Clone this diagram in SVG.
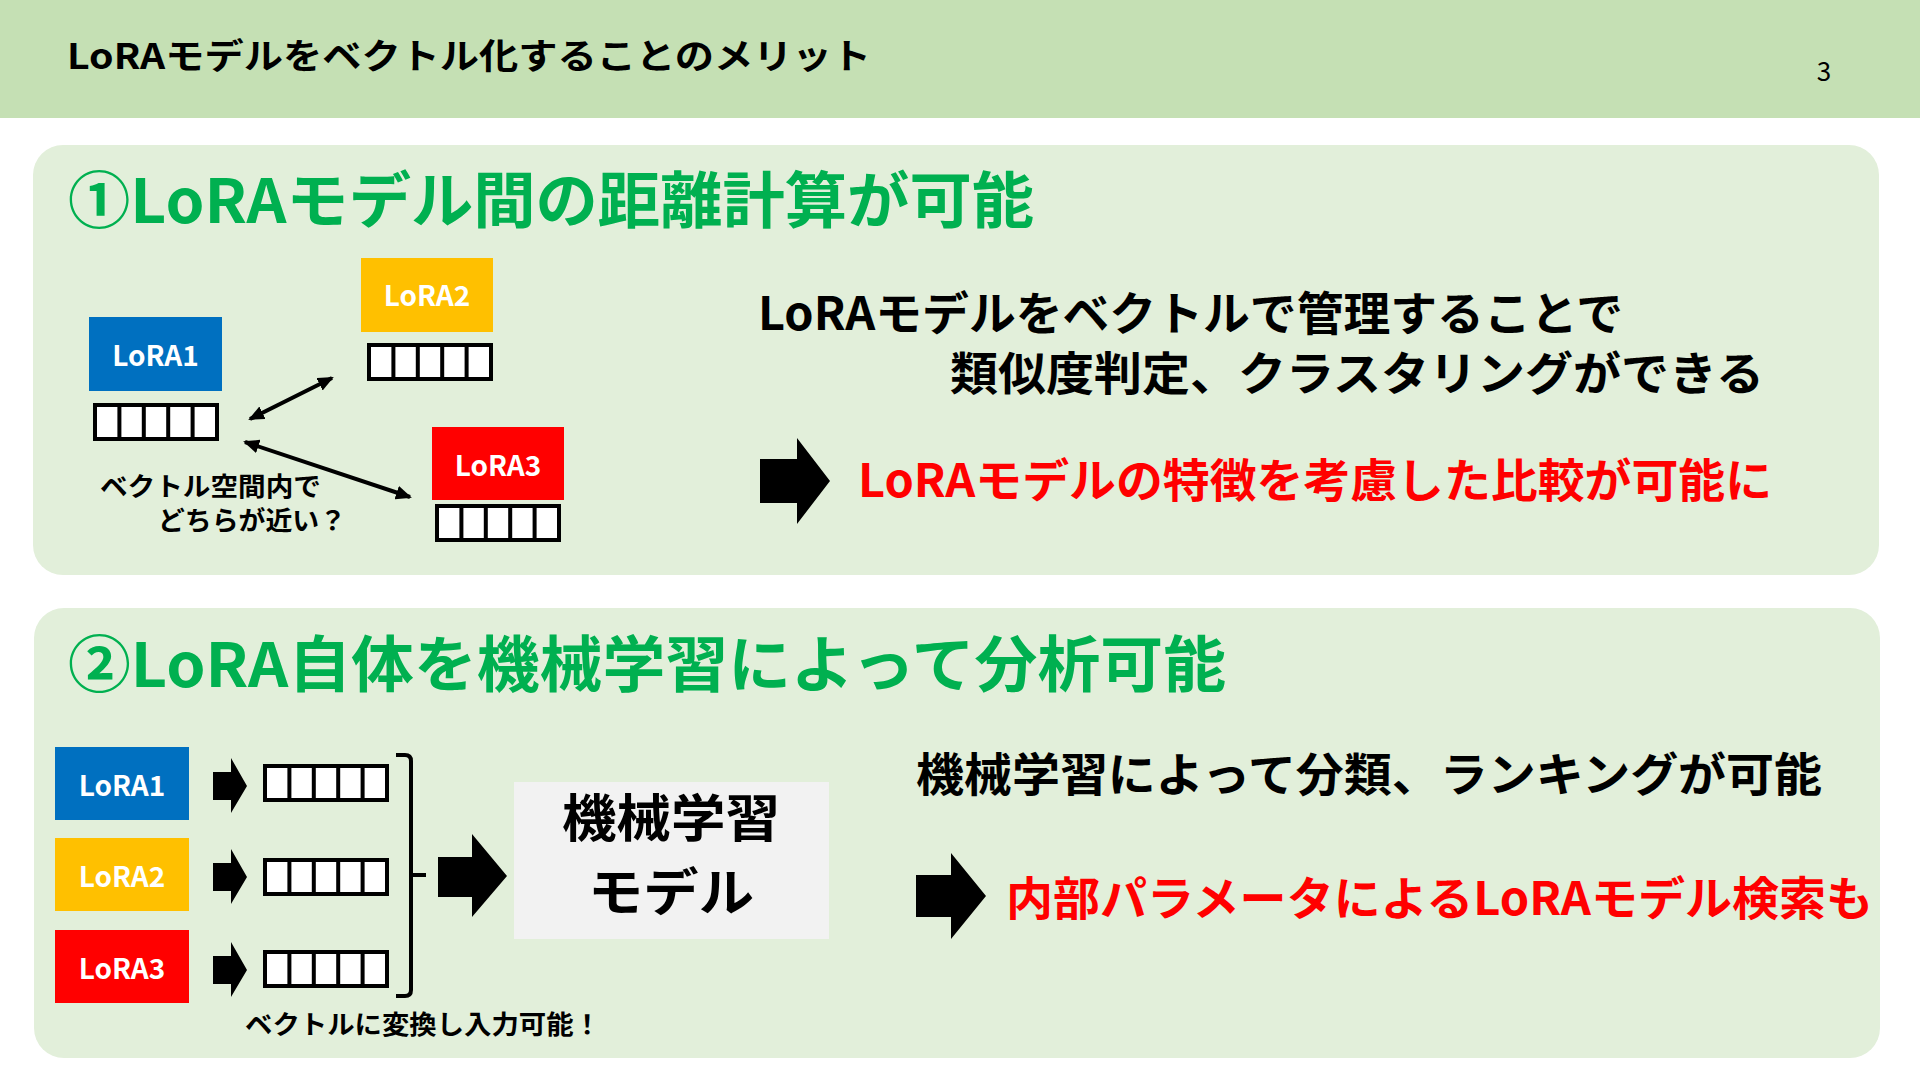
<svg xmlns="http://www.w3.org/2000/svg" width="1920" height="1080" viewBox="0 0 1920 1080">
<style>
text{font-family:"Noto Sans CJK JP","Noto Sans",sans-serif;font-weight:700}
.t{fill:#000}
.g{fill:#00b050}
.r{fill:#ff0000}
.w{fill:#fff}
.panel{fill:#e2efda}
.vec{fill:#fff;stroke:#000;stroke-width:4}
.div{stroke:#000;stroke-width:4}
.dbl{stroke:#000;stroke-width:4;fill:none}
.blk{fill:#000}
</style>
<defs>
<marker id="ah" viewBox="0 0 16 14" markerWidth="16" markerHeight="14" refX="14" refY="7" orient="auto-start-reverse" markerUnits="userSpaceOnUse">
<path d="M0,0 L16,7 L0,14 z" fill="#000"/>
</marker>
<g id="vcells">
<rect class="vec" x="0" y="0" width="122" height="34"/>
<path class="div" d="M24.4,0V34M48.8,0V34M73.2,0V34M97.6,0V34"/>
</g>
</defs>
<rect width="1920" height="1080" fill="#fff"/>
<rect x="0" y="0" width="1920" height="118" fill="#c5e0b4"/>
<text x="67" y="69" font-size="35" textLength="804" lengthAdjust="spacingAndGlyphs" class="t">LoRAモデルをベクトル化することのメリット</text>
<text x="1824" y="81" font-size="26" text-anchor="middle" style="font-weight:400" class="t">3</text>

<g id="panel1">
<rect class="panel" x="33" y="145" width="1846" height="430" rx="30"/>
<text x="68" y="223" font-size="61" textLength="966" lengthAdjust="spacingAndGlyphs" class="g">①LoRAモデル間の距離計算が可能</text>
</g>
<g id="p1-lora1">
<rect x="89" y="317" width="133" height="74" fill="#0070c0"/>
<text x="155.5" y="366" font-size="28" text-anchor="middle" class="w">LoRA1</text>
<use href="#vcells" x="95" y="405"/>
</g>
<g id="p1-lora2">
<rect x="361" y="258" width="132" height="74" fill="#ffc000"/>
<text x="427" y="306" font-size="28" text-anchor="middle" class="w">LoRA2</text>
<use href="#vcells" x="369" y="345"/>
</g>
<g id="p1-lora3">
<rect x="432" y="427" width="132" height="73" fill="#ff0000"/>
<text x="498" y="476" font-size="28" text-anchor="middle" class="w">LoRA3</text>
<use href="#vcells" x="437" y="506"/>
</g>
<g id="p1-note">
<text x="100" y="496" font-size="26" textLength="221" lengthAdjust="spacingAndGlyphs" class="t">ベクトル空間内で</text>
<text x="158" y="530" font-size="26" textLength="188" lengthAdjust="spacingAndGlyphs" class="t">どちらが近い？</text>
</g>
<g id="p1-text">
<text x="758" y="330" font-size="46" textLength="865" lengthAdjust="spacingAndGlyphs" class="t">LoRAモデルをベクトルで管理することで</text>
<text x="950" y="390" font-size="46" textLength="814" lengthAdjust="spacingAndGlyphs" class="t">類似度判定、クラスタリングができる</text>
<path class="blk" d="M760,459 H797 V438 L830,481 L797,524 V503 H760 z"/>
<text x="858" y="497" font-size="46" textLength="914" lengthAdjust="spacingAndGlyphs" class="r">LoRAモデルの特徴を考慮した比較が可能に</text>
</g>

<g id="panel2">
<rect class="panel" x="34" y="608" width="1846" height="450" rx="30"/>
<text x="68" y="687" font-size="61" textLength="1158" lengthAdjust="spacingAndGlyphs" class="g">②LoRA自体を機械学習によって分析可能</text>
</g>
<g id="p2-lora1">
<rect x="55" y="747" width="134" height="73" fill="#0070c0"/>
<text x="122" y="796" font-size="28" text-anchor="middle" class="w">LoRA1</text>
<path class="blk" d="M213,772 H231 V758 L247,786 L231,813 V800 H213 z"/>
<use href="#vcells" x="265" y="766"/>
</g>
<g id="p2-lora2">
<rect x="55" y="838" width="134" height="73" fill="#ffc000"/>
<text x="122" y="887" font-size="28" text-anchor="middle" class="w">LoRA2</text>
<path class="blk" d="M213,863 H231 V849 L247,877 L231,904 V891 H213 z"/>
<use href="#vcells" x="265" y="860"/>
</g>
<g id="p2-lora3">
<rect x="55" y="930" width="134" height="73" fill="#ff0000"/>
<text x="122" y="979" font-size="28" text-anchor="middle" class="w">LoRA3</text>
<path class="blk" d="M213,956 H231 V942 L247,970 L231,997 V984 H213 z"/>
<use href="#vcells" x="265" y="952"/>
</g>
<g id="p2-note">
<text x="245" y="1034" font-size="26" textLength="356" lengthAdjust="spacingAndGlyphs" class="t">ベクトルに変換し入力可能！</text>
</g>
<g id="p2-model">
<rect x="514" y="782" width="315" height="157" fill="#f2f2f2"/>
<text x="562" y="837" font-size="51" textLength="218" lengthAdjust="spacingAndGlyphs" class="t">機械学習</text>
<text x="588" y="911" font-size="51" textLength="166" lengthAdjust="spacingAndGlyphs" class="t">モデル</text>
</g>
<g id="p2-text">
<text x="916" y="791" font-size="46" textLength="906" lengthAdjust="spacingAndGlyphs" class="t">機械学習によって分類、ランキングが可能</text>
<path class="blk" d="M916,875 H951 V853 L986,896 L951,939 V917 H916 z"/>
<text x="1006" y="915" font-size="46" textLength="867" lengthAdjust="spacingAndGlyphs" class="r">内部パラメータによるLoRAモデル検索も</text>
</g>

<g id="connectors">
<line class="dbl" x1="250" y1="419" x2="332" y2="378" marker-start="url(#ah)" marker-end="url(#ah)"/>
<line class="dbl" x1="245" y1="442" x2="410" y2="497" marker-start="url(#ah)" marker-end="url(#ah)"/>
<path class="dbl" d="M396,755 H405 Q411,755 411,761 V990 Q411,996 405,996 H396 M411,875 H426" stroke-width="3"/>
<path class="blk" d="M438,857 H472 V834 L507,876 L472,917 V897 H438 z"/>
</g>
</svg>
